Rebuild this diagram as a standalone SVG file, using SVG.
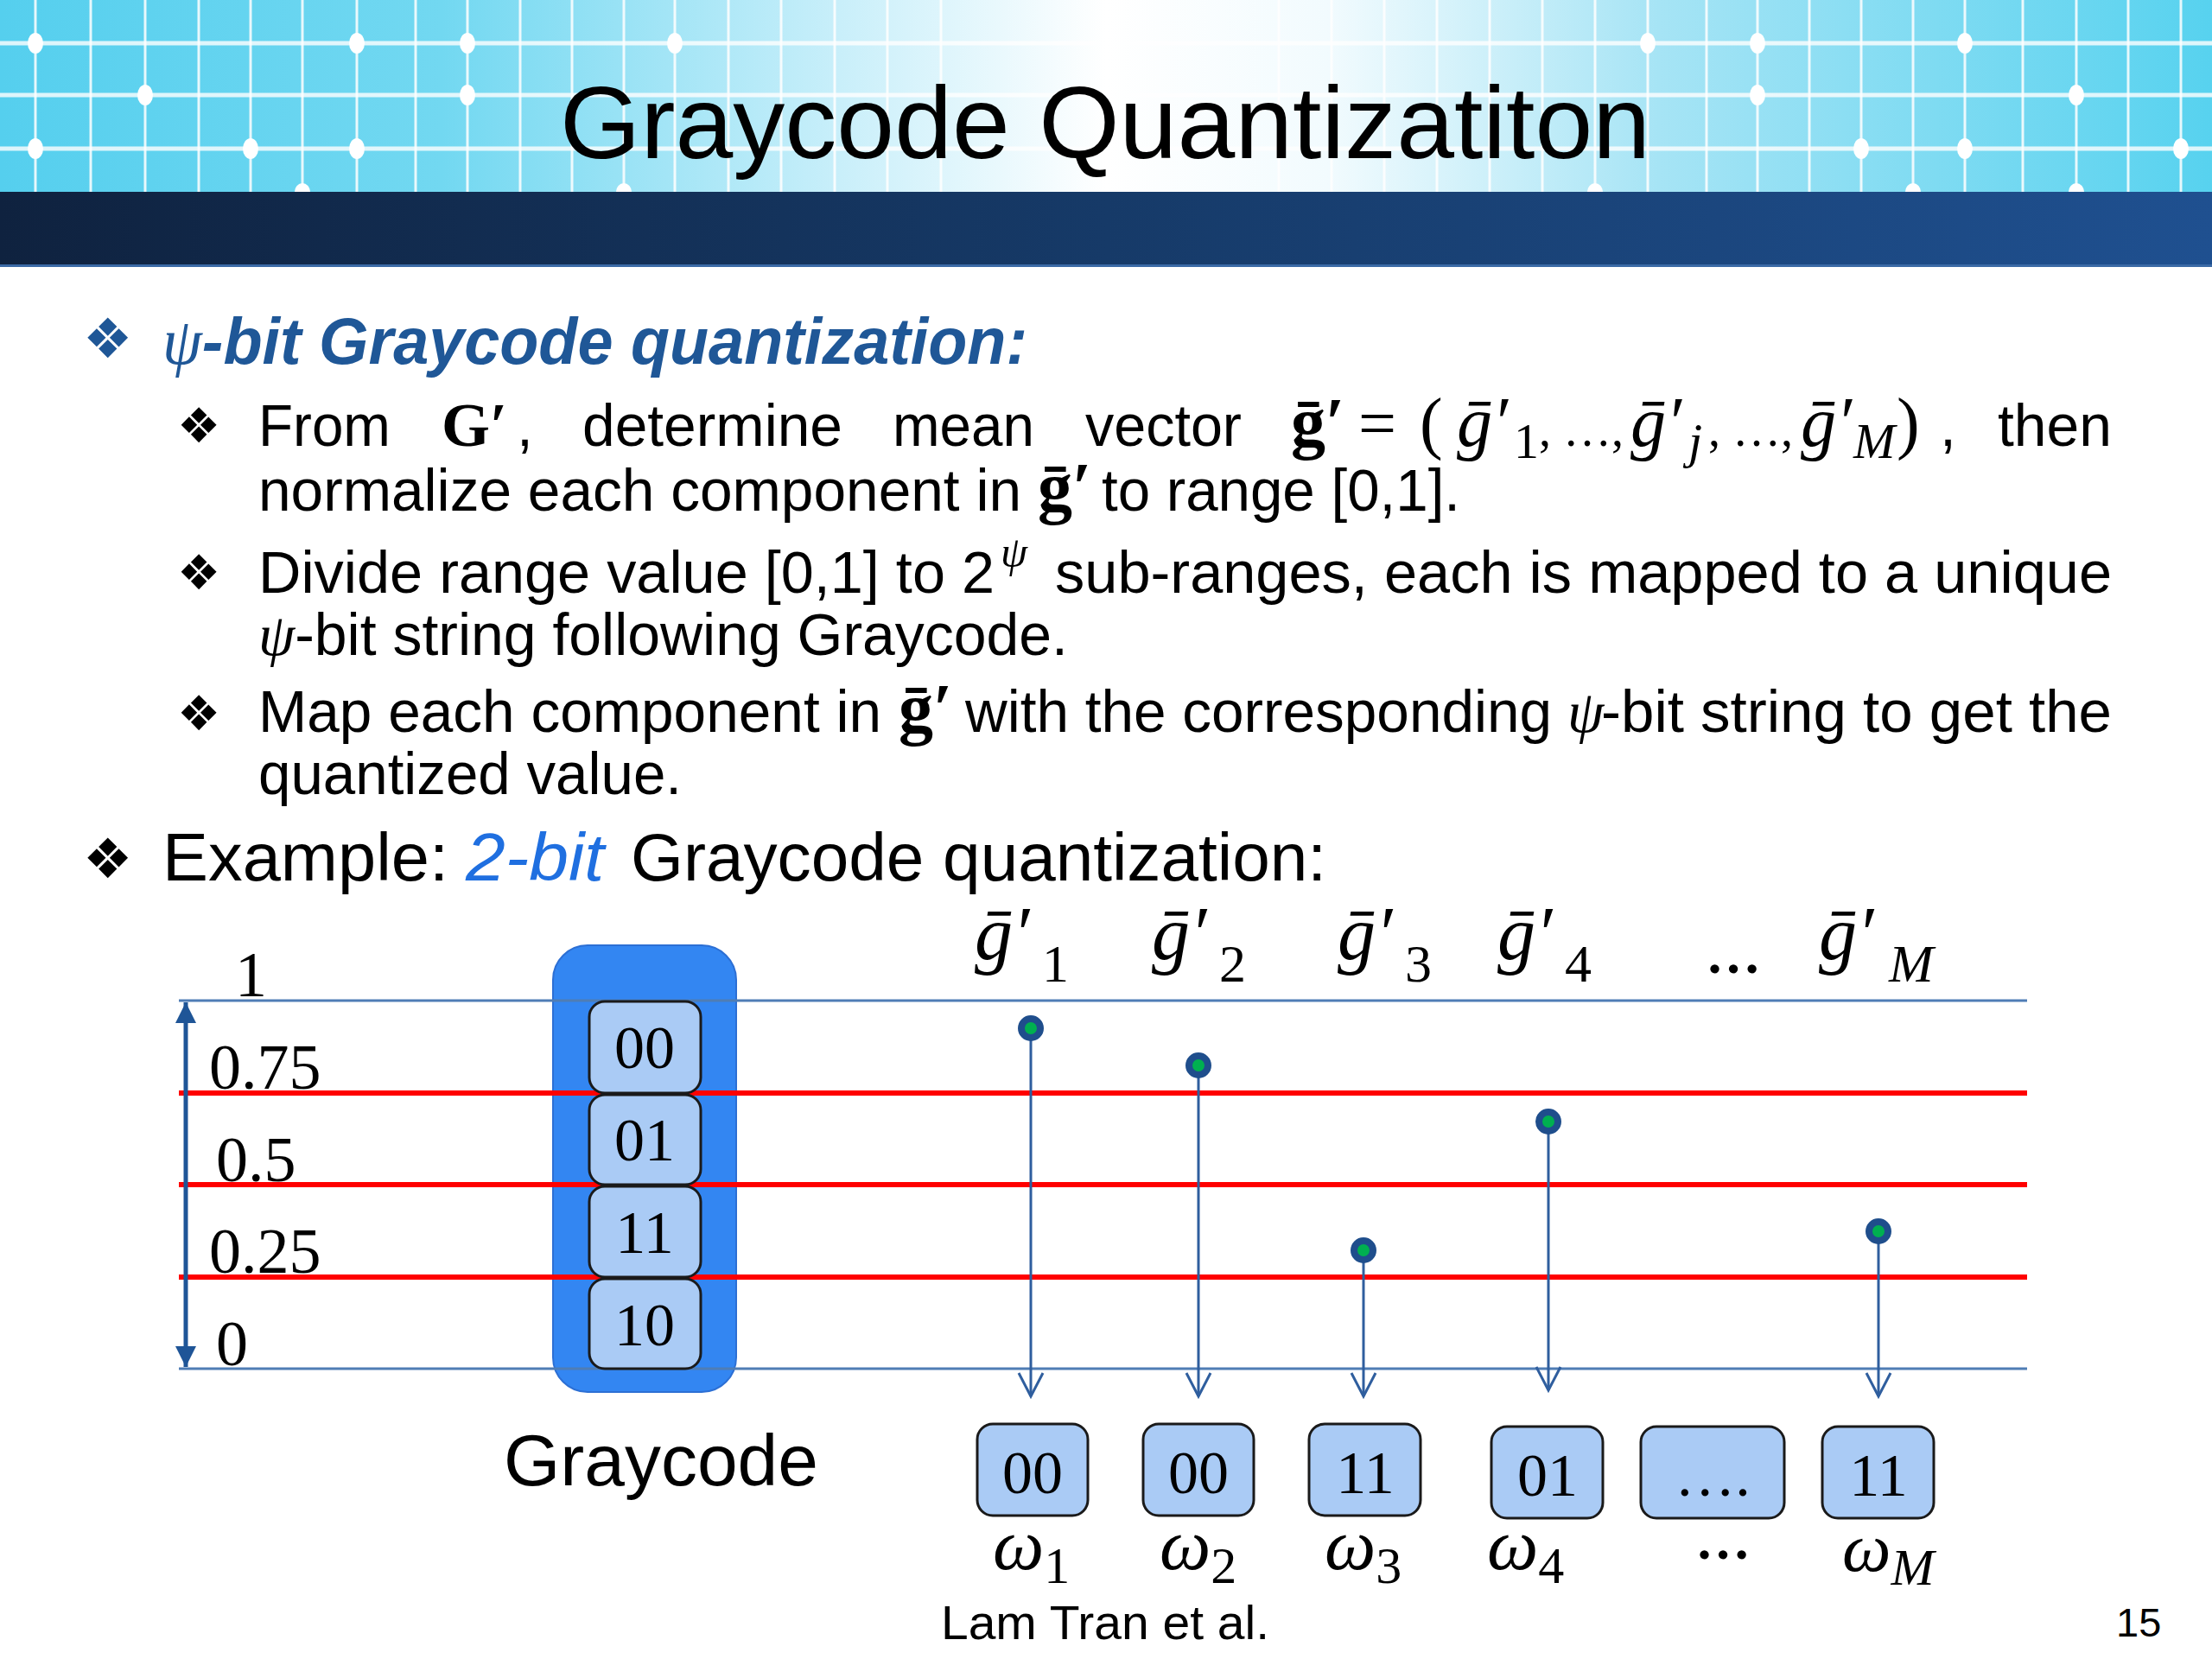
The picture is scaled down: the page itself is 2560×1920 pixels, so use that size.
<svg xmlns="http://www.w3.org/2000/svg" width="2560" height="1920" viewBox="0 0 2560 1920">
<style>
.sans{font-family:"Liberation Sans",Arial,sans-serif}
.serif{font-family:"Liberation Serif","Times New Roman",serif}
.math{font-family:"Liberation Serif","DejaVu Serif",serif;font-style:italic}
.bul{font-family:"DejaVu Sans",sans-serif}
.body{font-size:68px}
.vl{stroke:#ffffff;stroke-width:3;opacity:0.85}
.hl{stroke:#ffffff;stroke-width:5;opacity:0.8}
.gd{fill:#ffffff}
.red{stroke:#ff0000;stroke-width:6}
.blu{stroke:#4f7db5;stroke-width:3}
.conn{stroke:#2f5e9e;stroke-width:3;fill:none}
.dot{fill:#00b050;stroke:#1f4e8c;stroke-width:8}
.cell{fill:#aacbf5;stroke:#1a1a1a;stroke-width:3}
.dig{font-family:"Liberation Serif","Times New Roman",serif;font-size:70px;text-anchor:middle}
.blue{fill:#1f5797}
</style>
<defs>
<linearGradient id="hdr" x1="0" y1="0" x2="1" y2="0">
<stop offset="0" stop-color="#55cfee"/>
<stop offset="0.2" stop-color="#72d8f1"/>
<stop offset="0.38" stop-color="#c9effa"/>
<stop offset="0.5" stop-color="#ffffff"/>
<stop offset="0.6" stop-color="#f2fbfe"/>
<stop offset="0.75" stop-color="#a6e4f5"/>
<stop offset="1" stop-color="#57d2ef"/>
</linearGradient>
<linearGradient id="band" x1="0" y1="0" x2="1" y2="0">
<stop offset="0" stop-color="#0f223f"/>
<stop offset="0.5" stop-color="#163a68"/>
<stop offset="1" stop-color="#1f5090"/>
</linearGradient>
<marker id="vhead" markerUnits="userSpaceOnUse" markerWidth="32" markerHeight="32" viewBox="0 0 32 32" refX="29" refY="16" orient="auto">
<path d="M2,2 L29,16 L2,30" fill="none" stroke="#2f5e9e" stroke-width="3"/>
</marker>
<marker id="fhead" markerUnits="userSpaceOnUse" markerWidth="26" markerHeight="26" viewBox="0 0 26 26" refX="24" refY="13" orient="auto-start-reverse">
<path d="M0,1 L24,13 L0,25 Z" fill="#1f5597"/>
</marker>
</defs>

<!-- header -->
<g id="header">
<rect x="0" y="0" width="2560" height="222" fill="url(#hdr)"/>
<g class="hl">
<line x1="0" y1="50" x2="2560" y2="50"/>
<line x1="0" y1="110" x2="2560" y2="110"/>
<line x1="0" y1="172" x2="2560" y2="172"/>
</g>
<g class="vl">
<line x1="41" y1="0" x2="41" y2="222"/><line x1="105" y1="0" x2="105" y2="222"/><line x1="168" y1="0" x2="168" y2="222"/><line x1="230" y1="0" x2="230" y2="222"/><line x1="290" y1="0" x2="290" y2="222"/><line x1="350" y1="0" x2="350" y2="222"/><line x1="413" y1="0" x2="413" y2="222"/><line x1="481" y1="0" x2="481" y2="222"/><line x1="541" y1="0" x2="541" y2="222"/><line x1="602" y1="0" x2="602" y2="222"/><line x1="662" y1="0" x2="662" y2="222"/><line x1="722" y1="0" x2="722" y2="222"/><line x1="781" y1="0" x2="781" y2="222"/><line x1="843" y1="0" x2="843" y2="222"/><line x1="904" y1="0" x2="904" y2="222"/><line x1="966" y1="0" x2="966" y2="222"/><line x1="1027" y1="0" x2="1027" y2="222"/><line x1="1089" y1="0" x2="1089" y2="222"/>
<line x1="1480" y1="0" x2="1480" y2="222"/><line x1="1541" y1="0" x2="1541" y2="222"/><line x1="1602" y1="0" x2="1602" y2="222"/><line x1="1663" y1="0" x2="1663" y2="222"/><line x1="1724" y1="0" x2="1724" y2="222"/><line x1="1785" y1="0" x2="1785" y2="222"/><line x1="1846" y1="0" x2="1846" y2="222"/><line x1="1907" y1="0" x2="1907" y2="222"/><line x1="1975" y1="0" x2="1975" y2="222"/><line x1="2034" y1="0" x2="2034" y2="222"/><line x1="2094" y1="0" x2="2094" y2="222"/><line x1="2154" y1="0" x2="2154" y2="222"/><line x1="2214" y1="0" x2="2214" y2="222"/><line x1="2274" y1="0" x2="2274" y2="222"/><line x1="2341" y1="0" x2="2341" y2="222"/><line x1="2403" y1="0" x2="2403" y2="222"/><line x1="2463" y1="0" x2="2463" y2="222"/><line x1="2524" y1="0" x2="2524" y2="222"/>
</g>
<g class="gd">
<ellipse cx="41" cy="50" rx="9" ry="12"/><ellipse cx="413" cy="50" rx="9" ry="12"/><ellipse cx="541" cy="50" rx="9" ry="12"/><ellipse cx="781" cy="50" rx="9" ry="12"/>
<ellipse cx="1907" cy="50" rx="9" ry="12"/><ellipse cx="2034" cy="50" rx="9" ry="12"/><ellipse cx="2274" cy="50" rx="9" ry="12"/>
<ellipse cx="168" cy="110" rx="9" ry="12"/><ellipse cx="541" cy="110" rx="9" ry="12"/><ellipse cx="2034" cy="110" rx="9" ry="12"/><ellipse cx="2403" cy="110" rx="9" ry="12"/>
<ellipse cx="41" cy="172" rx="9" ry="12"/><ellipse cx="290" cy="172" rx="9" ry="12"/><ellipse cx="413" cy="172" rx="9" ry="12"/><ellipse cx="2154" cy="172" rx="9" ry="12"/><ellipse cx="2274" cy="172" rx="9" ry="12"/><ellipse cx="2524" cy="172" rx="9" ry="12"/>
<ellipse cx="350" cy="222" rx="9" ry="10"/><ellipse cx="722" cy="222" rx="9" ry="10"/><ellipse cx="1846" cy="222" rx="9" ry="10"/><ellipse cx="2214" cy="222" rx="9" ry="10"/><ellipse cx="2403" cy="222" rx="9" ry="10"/>
</g>
<rect x="0" y="222" width="2560" height="87" fill="url(#band)"/>
<rect x="0" y="306" width="2560" height="3" fill="#3b6aa6"/>
<text class="sans" x="648" y="183" font-size="118" textLength="1262" lengthAdjust="spacingAndGlyphs">Graycode Quantizatiton</text>
</g>

<!-- bullets text -->
<g id="text-block">
<text class="bul blue" x="96" y="414" font-size="64">❖</text>
<text class="sans blue" x="188" y="421" font-size="76" font-weight="bold" font-style="italic" textLength="1001" lengthAdjust="spacingAndGlyphs"><tspan font-family="Liberation Serif,serif" font-weight="normal">ψ</tspan>-bit Graycode quantization:</text>

<text class="bul" x="205" y="512" font-size="56">❖</text>
<text class="sans body" x="299" y="516" textLength="153" lengthAdjust="spacingAndGlyphs">From</text>
<text class="serif" x="511" y="516" font-size="72" font-weight="bold">G′</text>
<text class="sans body" x="598" y="516">,</text>
<text class="sans body" x="674" y="516" textLength="301" lengthAdjust="spacingAndGlyphs">determine</text>
<text class="sans body" x="1033" y="516" textLength="164" lengthAdjust="spacingAndGlyphs">mean</text>
<text class="sans body" x="1256" y="516" textLength="181" lengthAdjust="spacingAndGlyphs">vector</text>
<text class="serif" x="1494" y="516" font-size="80" font-weight="bold">ḡ′</text>
<text class="serif" x="1572" y="516" font-size="78">=</text>
<text class="serif" x="1643" y="516" font-size="80">(</text>
<text class="math" x="1686" y="516" font-size="82">ḡ′</text>
<text class="serif" x="1752" y="530" font-size="58">1</text>
<text class="serif" x="1781" y="516" font-size="56">, …,</text>
<text class="math" x="1887" y="516" font-size="82">ḡ′</text>
<text class="math" x="1954" y="530" font-size="58">j</text>
<text class="serif" x="1977" y="516" font-size="56">, …,</text>
<text class="math" x="2084" y="516" font-size="82">ḡ′</text>
<text class="math" x="2145" y="530" font-size="58">M</text>
<text class="serif" x="2195" y="516" font-size="80">)</text>
<text class="sans body" x="2245" y="516">,</text>
<text class="sans body" x="2312" y="516" textLength="132" lengthAdjust="spacingAndGlyphs">then</text>

<text class="sans body" x="299" y="591" textLength="883" lengthAdjust="spacingAndGlyphs">normalize each component in</text>
<text class="serif" x="1201" y="591" font-size="80" font-weight="bold">ḡ′</text>
<text class="sans body" x="1275" y="591" textLength="415" lengthAdjust="spacingAndGlyphs">to range [0,1].</text>

<text class="bul" x="205" y="682" font-size="56">❖</text>
<text class="sans body" x="299" y="686" textLength="852" lengthAdjust="spacingAndGlyphs">Divide range value [0,1] to 2</text>
<text class="math" x="1158" y="656" font-size="50">ψ</text>
<text class="sans body" x="1221" y="686" textLength="1223" lengthAdjust="spacingAndGlyphs">sub-ranges, each is mapped to a unique</text>
<text class="sans body" x="299" y="758" textLength="937" lengthAdjust="spacingAndGlyphs"><tspan font-family="Liberation Serif,serif" font-style="italic">ψ</tspan>-bit string following Graycode.</text>

<text class="bul" x="205" y="845" font-size="56">❖</text>
<text class="sans body" x="299" y="847" textLength="721" lengthAdjust="spacingAndGlyphs">Map each component in</text>
<text class="serif" x="1040" y="847" font-size="80" font-weight="bold">ḡ′</text>
<text class="sans body" x="1117" y="847" textLength="679" lengthAdjust="spacingAndGlyphs">with the corresponding</text>
<text class="math" x="1814" y="847" font-size="68">ψ</text>
<text class="sans body" x="1853" y="847" textLength="591" lengthAdjust="spacingAndGlyphs">-bit string to get the</text>
<text class="sans body" x="299" y="919" textLength="490" lengthAdjust="spacingAndGlyphs">quantized value.</text>

<text class="bul" x="96" y="1016" font-size="64">❖</text>
<text class="sans" x="188" y="1019" font-size="78" textLength="331" lengthAdjust="spacingAndGlyphs">Example:</text>
<text class="sans" x="539" y="1019" font-size="78" font-style="italic" fill="#1f6fe0" textLength="160" lengthAdjust="spacingAndGlyphs">2-bit</text>
<text class="sans" x="730" y="1019" font-size="78" textLength="805" lengthAdjust="spacingAndGlyphs">Graycode quantization:</text>
</g>

<!-- graycode column -->
<g id="graycode-box">
<rect x="640" y="1094" width="212" height="517" rx="40" fill="#3386f2" stroke="#2c6fd4" stroke-width="2"/>
</g>

<!-- grid lines -->
<g id="levels">
<line class="blu" x1="207" y1="1158" x2="2346" y2="1158"/>
<line class="red" x1="207" y1="1265" x2="2346" y2="1265"/>
<line class="red" x1="207" y1="1371" x2="2346" y2="1371"/>
<line class="red" x1="207" y1="1478" x2="2346" y2="1478"/>
<line class="blu" x1="207" y1="1584" x2="2346" y2="1584"/>
<line x1="215" y1="1160" x2="215" y2="1582" stroke="#1f5597" stroke-width="5" marker-start="url(#fhead)" marker-end="url(#fhead)"/>
<text class="serif" x="272" y="1153" font-size="74">1</text>
<text class="serif" x="242" y="1260" font-size="74">0.75</text>
<text class="serif" x="250" y="1367" font-size="74">0.5</text>
<text class="serif" x="242" y="1473" font-size="74">0.25</text>
<text class="serif" x="250" y="1580" font-size="74">0</text>
</g>

<g id="cell-00"><rect class="cell" x="682" y="1159" width="129" height="106" rx="18"/><text class="dig" x="746" y="1236">00</text></g>
<g id="cell-01"><rect class="cell" x="682" y="1267" width="129" height="104" rx="18"/><text class="dig" x="746" y="1343">01</text></g>
<g id="cell-11"><rect class="cell" x="682" y="1373" width="129" height="105" rx="18"/><text class="dig" x="746" y="1450">11</text></g>
<g id="cell-10"><rect class="cell" x="682" y="1480" width="129" height="104" rx="18"/><text class="dig" x="746" y="1557">10</text></g>
<text class="sans" x="583" y="1719" font-size="84" textLength="364" lengthAdjust="spacingAndGlyphs">Graycode</text>

<!-- column headers -->
<g id="headers">
<text class="math" x="1128" y="1110" font-size="88">ḡ′</text><text class="serif" x="1206" y="1136" font-size="62">1</text>
<text class="math" x="1333" y="1110" font-size="88">ḡ′</text><text class="serif" x="1411" y="1136" font-size="62">2</text>
<text class="math" x="1548" y="1110" font-size="88">ḡ′</text><text class="serif" x="1626" y="1136" font-size="62">3</text>
<text class="math" x="1733" y="1110" font-size="88">ḡ′</text><text class="serif" x="1811" y="1136" font-size="62">4</text>
<text class="serif" x="1974" y="1126" font-size="64" font-weight="bold">…</text>
<text class="math" x="2105" y="1110" font-size="88">ḡ′</text><text class="math" x="2186" y="1136" font-size="62">M</text>
</g>

<!-- connectors -->
<g id="connectors">
<line class="conn" x1="1193" y1="1190" x2="1193" y2="1616" marker-end="url(#vhead)"/>
<line class="conn" x1="1387" y1="1233" x2="1387" y2="1616" marker-end="url(#vhead)"/>
<line class="conn" x1="1578" y1="1447" x2="1578" y2="1616" marker-end="url(#vhead)"/>
<line class="conn" x1="1792" y1="1298" x2="1792" y2="1609" marker-end="url(#vhead)"/>
<line class="conn" x1="2174" y1="1425" x2="2174" y2="1616" marker-end="url(#vhead)"/>
</g>
<g id="points">
<circle class="dot" cx="1193" cy="1190" r="11"/>
<circle class="dot" cx="1387" cy="1233" r="11"/>
<circle class="dot" cx="1578" cy="1447" r="11"/>
<circle class="dot" cx="1792" cy="1298" r="11"/>
<circle class="dot" cx="2174" cy="1425" r="11"/>
</g>

<!-- output boxes -->
<g id="w1"><rect class="cell" x="1131" y="1648" width="128" height="106" rx="18"/><text class="dig" x="1195" y="1728" font-size="64">00</text></g>
<g id="w2"><rect class="cell" x="1323" y="1648" width="128" height="106" rx="18"/><text class="dig" x="1387" y="1728" font-size="64">00</text></g>
<g id="w3"><rect class="cell" x="1515" y="1648" width="129" height="106" rx="18"/><text class="dig" x="1580" y="1728" font-size="64">11</text></g>
<g id="w4"><rect class="cell" x="1726" y="1651" width="129" height="106" rx="18"/><text class="dig" x="1791" y="1731" font-size="64">01</text></g>
<g id="w5"><rect class="cell" x="1899" y="1651" width="166" height="106" rx="18"/><text class="dig" x="1982" y="1731" font-size="64">….</text></g>
<g id="wM"><rect class="cell" x="2109" y="1651" width="129" height="106" rx="18"/><text class="dig" x="2174" y="1731" font-size="64">11</text></g>

<g id="omega">
<text class="math" x="1149" y="1816" font-size="84">ω<tspan font-style="normal" font-size="60" y="1832">1</tspan></text>
<text class="math" x="1342" y="1816" font-size="84">ω<tspan font-style="normal" font-size="60" y="1832">2</tspan></text>
<text class="math" x="1533" y="1816" font-size="84">ω<tspan font-style="normal" font-size="60" y="1832">3</tspan></text>
<text class="math" x="1721" y="1816" font-size="84">ω<tspan font-style="normal" font-size="60" y="1832">4</tspan></text>
<text class="serif" x="1962" y="1804" font-size="64" font-weight="bold">…</text>
<text class="math" x="2132" y="1818" font-size="80">ω<tspan font-size="60" y="1834">M</tspan></text>
</g>

<text class="sans" x="1089" y="1897" font-size="56" textLength="380" lengthAdjust="spacingAndGlyphs">Lam Tran et al.</text>
<text class="sans" x="2449" y="1894" font-size="47">15</text>
</svg>
